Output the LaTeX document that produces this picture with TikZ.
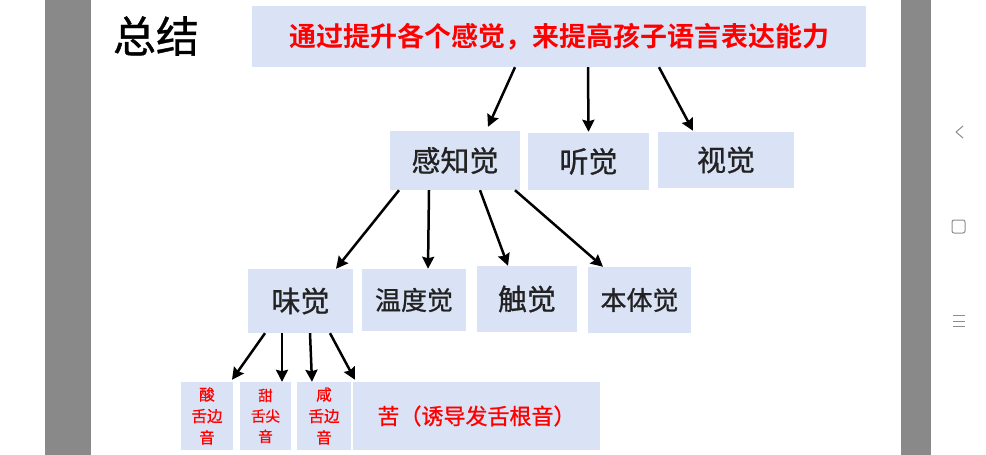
\documentclass[tikz,border=0pt]{standalone}
\usepackage{fontspec}
\setmainfont{Noto Sans CJK SC}[BoldFont={Noto Sans CJK SC Bold}]
\newfontfamily\medium{Noto Sans CJK SC}[FakeBold=0.9]
\usetikzlibrary{arrows.meta}
\definecolor{boxblue}{HTML}{DAE3F5}
\definecolor{bargray}{HTML}{898989}
\definecolor{txt}{HTML}{222222}
\begin{document}
\begin{tikzpicture}[x=1pt, y=-1pt, >={Stealth[length=12pt,width=12pt,inset=1.5pt]},
  box/.style={fill=boxblue, inner sep=0pt, text=txt, align=center},
  arr/.style={->, line width=2.5pt, black},
  nav/.style={draw=gray!90, line width=1pt}]
\useasboundingbox (0,0) rectangle (986,455);
\fill[white] (0,0) rectangle (986,455);
\fill[bargray] (45,0) rectangle (91,455);
\fill[bargray] (901,0) rectangle (931,455);
\draw[nav, line join=round] (963,126)--(956,132)--(963,138);
\draw[nav, rounded corners=2pt] (952,220) rectangle (965,233);
\foreach \y in {315,321,326} \draw[nav, line width=0.8pt] (953,\y)--(965,\y);
\node[text=black, font=\medium\fontsize{43}{46}\selectfont] (title) at (156,36) {总结};
\node[box, minimum width=614pt, minimum height=61pt, text=red, font=\bfseries\fontsize{27}{30}\selectfont] (top) at (559,36.5) {通过提升各个感觉，来提高孩子语言表达能力};
\node[box, minimum width=130pt, minimum height=59pt, font=\medium\fontsize{29}{32}\selectfont] (gzj) at (455,160.5) {感知觉};
\node[box, minimum width=121pt, minimum height=57pt, font=\medium\fontsize{29}{32}\selectfont] (tj) at (588.5,161.5) {听觉};
\node[box, minimum width=136pt, minimum height=56pt, font=\medium\fontsize{29}{32}\selectfont] (sj) at (726,160) {视觉};
\node[box, minimum width=105pt, minimum height=64pt, font=\medium\fontsize{29}{32}\selectfont] (wj) at (300.5,301) {味觉};
\node[box, minimum width=104pt, minimum height=62pt, font=\medium\fontsize{26}{30}\selectfont] (wdj) at (414,300) {温度觉};
\node[box, minimum width=100pt, minimum height=66pt, font=\medium\fontsize{29}{32}\selectfont] (cj) at (527,299) {触觉};
\node[box, minimum width=103pt, minimum height=66pt, font=\medium\fontsize{26}{30}\selectfont] (btj) at (639.5,300) {本体觉};
\node[box, minimum width=52pt, minimum height=68pt, text=red, font=\medium\fontsize{15.5}{21.5}\selectfont] (suan) at (207,416) {酸\\舌边\\音};
\node[box, minimum width=51pt, minimum height=68pt, text=red, font=\medium\fontsize{14.5}{20.5}\selectfont] (tian) at (265.5,416) {甜\\舌尖\\音};
\node[box, minimum width=54pt, minimum height=68pt, text=red, font=\medium\fontsize{15.5}{21.5}\selectfont] (xian) at (324,416) {咸\\舌边\\音};
\node[box, minimum width=247pt, minimum height=68pt, text=red, font=\medium\fontsize{22}{26}\selectfont] (ku) at (476.5,416) {苦（诱导发舌根音）};
\draw[arr] ([xshift=-44pt]top.south) -- ([xshift=33pt,yshift=4pt]gzj.north);
\draw[arr] ([xshift=29pt]top.south) -- ([yshift=1pt]tj.north);
\draw[arr] ([xshift=100pt]top.south) -- ([xshift=-33pt,yshift=1pt]sj.north);
\draw[arr] ([xshift=-56pt]gzj.south) -- ([xshift=35.5pt]wj.north);
\draw[arr] ([xshift=-26pt]gzj.south) -- ([xshift=14pt]wdj.north);
\draw[arr] ([xshift=25pt]gzj.south) -- ([xshift=-19pt]cj.north);
\draw[arr] ([xshift=60pt]gzj.south) -- ([xshift=-36.5pt]btj.north);
\draw[arr] ([xshift=-35.5pt]wj.south) -- ([xshift=25pt,yshift=2pt]suan.north);
\draw[arr] ([xshift=-18.5pt]wj.south) -- ([xshift=16.5pt]tian.north);
\draw[arr] ([xshift=9.5pt]wj.south) -- ([xshift=-12pt]xian.north);
\draw[arr] ([xshift=29.5pt]wj.south) -- ([xshift=-121.5pt,yshift=2pt]ku.north);
\end{tikzpicture}
\end{document}
